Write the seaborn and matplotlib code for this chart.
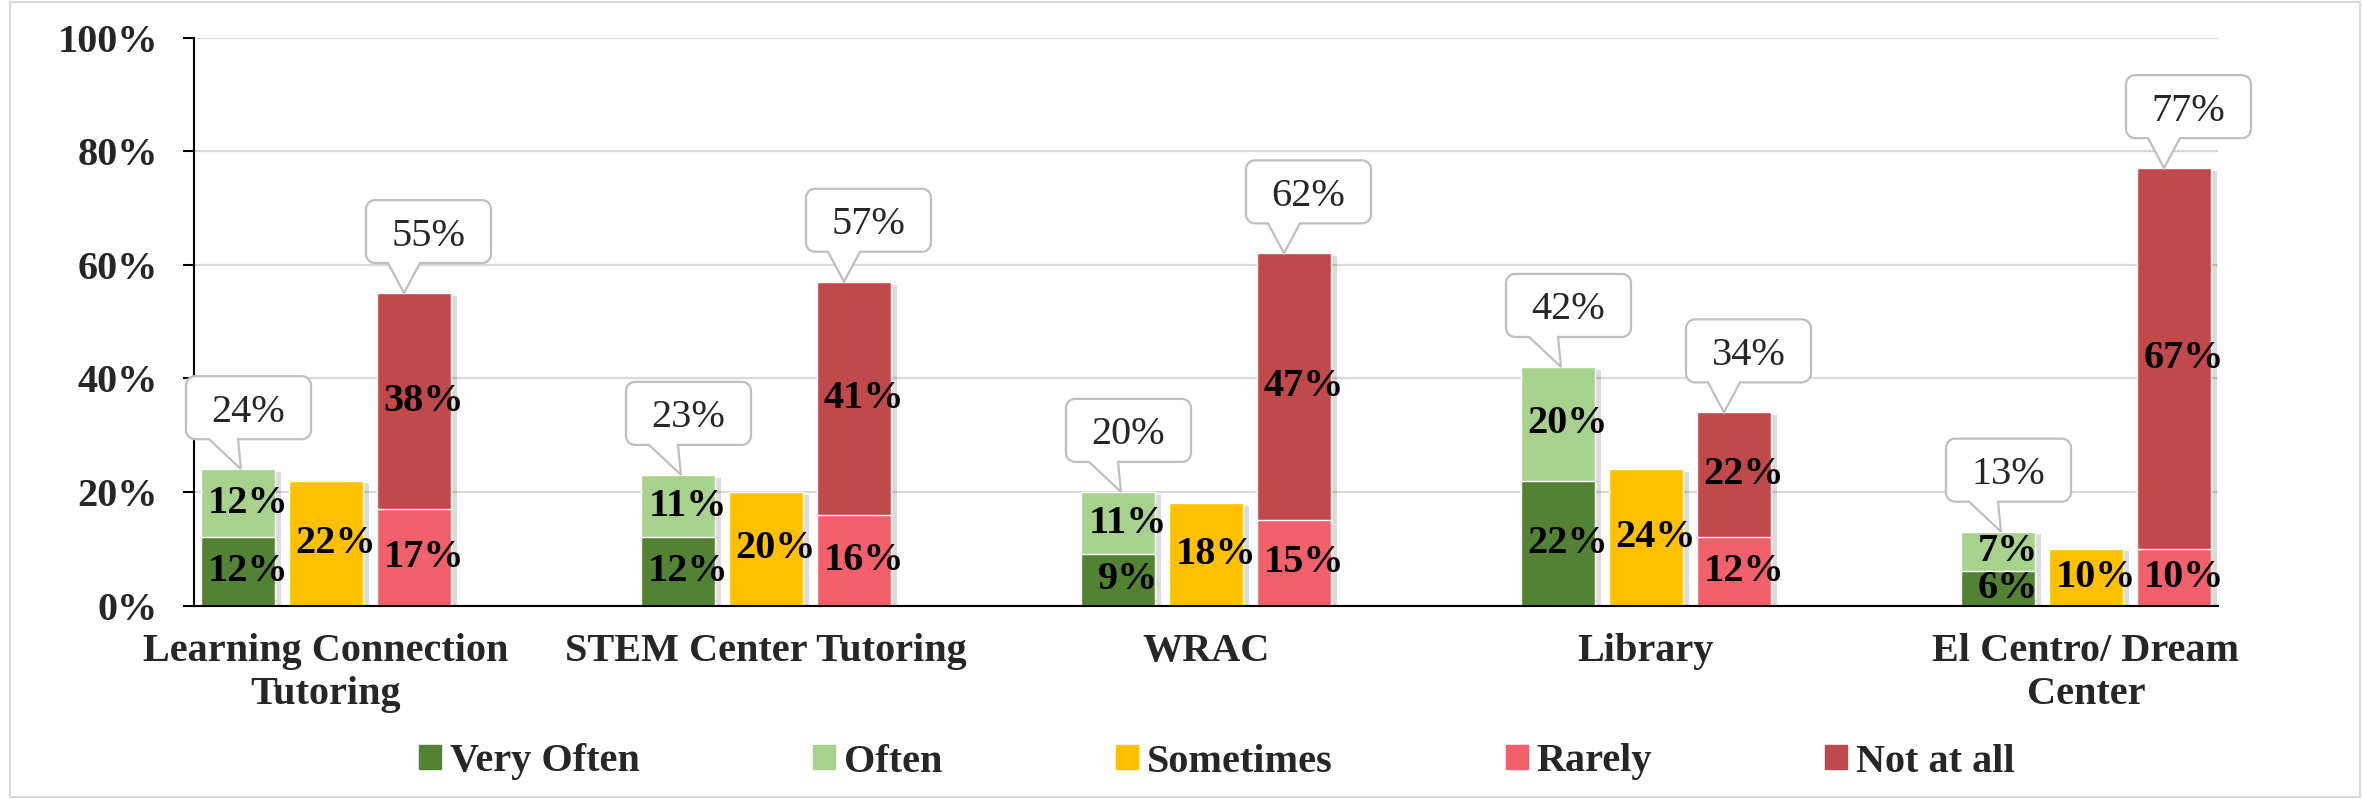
import numpy as np
import pandas as pd
import seaborn as sns
import matplotlib.pyplot as plt
from matplotlib.patches import Patch, PathPatch, Rectangle
from matplotlib.path import Path
from matplotlib.transforms import ScaledTranslation
import matplotlib.patheffects as pe

# datos (%)
categories = ["Learning Connection\nTutoring", "STEM Center Tutoring", "WRAC",
              "Library", "El Centro/ Dream\nCenter"]
very_often = [12, 12, 9, 22, 6]
often = [12, 11, 11, 20, 7]
sometimes = [22, 20, 18, 24, 10]
rarely = [17, 16, 15, 12, 10]
not_at_all = [38, 41, 47, 22, 67]
series = ["Very Often", "Often", "Sometimes", "Rarely", "Not at all"]
yticks = [0, 20, 40, 60, 80, 100]

colors = {"Very Often": "#548235", "Often": "#A9D18E", "Sometimes": "#FFC000",
          "Rarely": "#F2606B", "Not at all": "#C0494B"}

# 3 barras por grupo + 2 huecos, el ultimo grupo sin huecos -> 23 posiciones
n_slots = 5 * len(categories) - 2
slots = [f"s{i}" for i in range(n_slots)]

rows = []
for g in range(len(categories)):
    pos_tot = very_often[g] + often[g]
    neg_tot = rarely[g] + not_at_all[g]
    rows.append((slots[5 * g], "pos_total", pos_tot, often[g]))
    rows.append((slots[5 * g], "pos_bottom", very_often[g], very_often[g]))
    rows.append((slots[5 * g + 1], "mid", sometimes[g], sometimes[g]))
    rows.append((slots[5 * g + 2], "neg_total", neg_tot, not_at_all[g]))
    rows.append((slots[5 * g + 2], "neg_bottom", rarely[g], rarely[g]))
df = pd.DataFrame(rows, columns=["slot", "layer", "height", "label"])

sns.set_style("white")
plt.rcParams["font.family"] = ["Liberation Serif", "DejaVu Serif"]
plt.rcParams["font.weight"] = "bold"
FS = 29

fig = plt.figure(figsize=(23.62, 7.99), dpi=100)
ax = fig.add_axes([194 / 2362, 1 - 605.5 / 799, (2218 - 194) / 2362, 568 / 799])

# marco exterior
fig.patches.append(Rectangle((10 / 2362, 2 / 799), 2350 / 2362, 795 / 799,
                             transform=fig.transFigure, fill=False,
                             ec="#D9D9D9", lw=1.5, zorder=0))

layer_colors = {"pos_total": colors["Often"], "pos_bottom": colors["Very Often"],
                "mid": colors["Sometimes"], "neg_total": colors["Not at all"],
                "neg_bottom": colors["Rarely"]}
shadow = [pe.SimplePatchShadow(offset=(5, -2), shadow_rgbFace="black", alpha=0.14),
          pe.Normal()]

containers = {}
for layer in ["pos_total", "pos_bottom", "mid", "neg_total", "neg_bottom"]:
    sub = df[df.layer == layer]
    sns.barplot(data=sub, x="slot", y="height", order=slots, color=layer_colors[layer],
                saturation=1, width=0.83, errorbar=None, ax=ax, zorder=3)
    cont = ax.containers[-1]
    containers[layer] = (cont, sub)
    if layer in ("pos_total", "mid", "neg_total"):
        for p in cont:
            p.set_path_effects(shadow)

# etiquetas dentro de las barras
for layer in ["pos_total", "pos_bottom", "mid", "neg_total", "neg_bottom"]:
    cont, sub = containers[layer]
    for p, lab in zip(cont, sub["label"]):
        bottom = 0
        if layer in ("pos_total", "neg_total"):
            bottom = p.get_height() - lab
        xc = p.get_x() + p.get_width() / 2
        yc = bottom + lab / 2
        ax.annotate(f"{lab}%", (xc, yc), xytext=(7, 0), textcoords="offset points",
                    ha="center", va="center", fontsize=FS, fontweight="bold",
                    color="black", zorder=6)


def callout(x, y, text, box_l, box_r, base_l, base_r):
    # geometria en pixeles relativa a la punta
    bot, top, r = 30, 93, 9
    t = np.linspace(0, np.pi / 2, 8)
    pts = [(base_l, bot)]
    pts += [(box_l + r - r * np.sin(a), bot + r - r * np.cos(a)) for a in t]
    pts += [(box_l + r - r * np.cos(a), top - r + r * np.sin(a)) for a in t]
    pts += [(box_r - r + r * np.sin(a), top - r + r * np.cos(a)) for a in t]
    pts += [(box_r - r + r * np.cos(a), bot + r - r * np.sin(a)) for a in t]
    pts += [(base_r, bot), (0, 0), (base_l, bot)]
    verts = np.array(pts) / 100.0
    trans = fig.dpi_scale_trans + ScaledTranslation(x, y, ax.transData)
    patch = PathPatch(Path(verts, closed=True), fc="white", ec="#BFBFBF", lw=1.6,
                      transform=trans, zorder=7, clip_on=False)
    ax.add_patch(patch)
    ax.annotate(text, (x, y), xytext=((box_l + box_r) / 2 * 0.72, (bot + top) / 2 * 0.72),
                textcoords="offset points", ha="center", va="center_baseline",
                fontsize=FS, fontweight="normal", color="#262626", zorder=8)


for layer, geom in [("pos_total", (-55, 70, -32, -3, 3)),
                    ("neg_total", (-38, 87, -16, 16, -10))]:
    cont, sub = containers[layer]
    for p in cont:
        xc = p.get_x() + p.get_width() / 2
        top = p.get_height()
        bl, br, gl, gr, dx = geom
        # desplazar la punta dx px respecto del centro de la barra
        xd, yd = ax.transData.transform((xc, top))
        xt, _ = ax.transData.inverted().transform((xd + dx, yd))
        callout(xt, top, f"{int(round(top))}%", bl, br, gl, gr)

# ejes
ax.set_xlim(-0.5, n_slots - 0.5)
ax.set_ylim(0, 100)
ax.set_yticks(yticks)
ax.set_yticklabels([f"{v}%" for v in yticks], fontsize=FS, fontweight="bold")
centers = [5 * g + 1 for g in range(len(categories))]
ax.set_xticks(centers)
ax.set_xticklabels(categories, fontsize=FS, fontweight="bold", linespacing=1.2)
ax.set_xticks(np.arange(-0.5, n_slots, 1), minor=True)
ax.tick_params(axis="x", which="major", length=0, pad=20)
ax.tick_params(axis="x", which="minor", length=7.5, width=1.5, color="black", direction="out")
ax.tick_params(axis="y", length=8, width=1.5, color="black", direction="out", pad=18, left=True)
ax.set_xlabel("")
ax.set_ylabel("")
ax.yaxis.grid(True, color="#D9D9D9", lw=1.6)
ax.set_axisbelow(True)
for s in ["top", "right"]:
    ax.spines[s].set_visible(False)
for s in ["left", "bottom"]:
    ax.spines[s].set_color("black")
    ax.spines[s].set_linewidth(1.5)
    ax.spines[s].set_zorder(5)

handles = [Patch(color=colors[s]) for s in series]
fig.legend(handles, series, loc="center", bbox_to_anchor=(1217 / 2362, 1 - 762 / 799),
           ncol=5, frameon=False, handlelength=0.55, handleheight=0.55,
           handletextpad=0.22, columnspacing=4.3,
           prop={"size": FS, "weight": "bold", "family": "Liberation Serif"})

fig.savefig("out.png", dpi=100)
